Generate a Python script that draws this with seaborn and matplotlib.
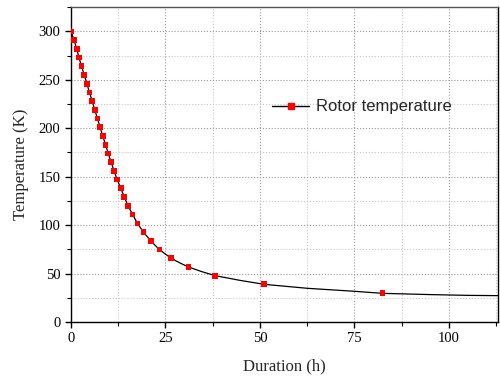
import numpy as np
import pandas as pd
import matplotlib
matplotlib.use('Agg')
import matplotlib.pyplot as plt
import seaborn as sns
from matplotlib.ticker import MultipleLocator

# marker points
duration = [0, 0.8, 1.5, 2.1, 2.8, 3.5, 4.2, 4.9, 5.6, 6.3, 7.0, 7.7, 8.4, 9.15,
            9.85, 10.6, 11.4, 12.2, 13.2, 14.1, 15.1, 16.3, 17.6, 19.2, 21.1,
            23.4, 26.5, 31.1, 38.2, 51.1, 82.4]
temperature = [300, 291, 282, 273, 264, 255, 246, 237, 228, 219, 210, 201, 192,
               183, 174, 165, 156, 147, 138, 129, 120, 111, 101.6, 92.7, 83.7,
               74.7, 65.8, 56.8, 47.8, 38.9, 29.6]

# extra points along the smooth curve (between and after markers)
curve_duration = [28.8, 34.6, 44.7, 62.5, 75, 95, 105, 113]
curve_temperature = [61.0, 52.0, 43.0, 34.8, 31.7, 28.3, 27.5, 27.2]

line_df = pd.DataFrame({'Duration': duration + curve_duration,
                        'Temperature': temperature + curve_temperature}).sort_values('Duration')
mark_df = pd.DataFrame({'Duration': duration, 'Temperature': temperature})

sns.set_style('ticks')
plt.rcParams['font.family'] = ['Liberation Serif', 'DejaVu Serif']

fig = plt.figure(figsize=(5, 3.76), dpi=100)
ax = fig.add_axes([0.142, 0.1436, 0.854, 0.8374])

sns.lineplot(data=line_df, x='Duration', y='Temperature', color='black', lw=0.9,
             sort=True, ax=ax, legend=False)
sns.scatterplot(data=mark_df, x='Duration', y='Temperature', marker='s', s=17,
                color='red', edgecolor='none', ax=ax, zorder=3, legend=False)

ax.set_xlim(0, 113)
ax.set_ylim(0, 325)
ax.xaxis.set_major_locator(MultipleLocator(25))
ax.xaxis.set_minor_locator(MultipleLocator(12.5))
ax.yaxis.set_major_locator(MultipleLocator(50))
ax.yaxis.set_minor_locator(MultipleLocator(25))

ax.grid(which='major', linestyle=':', color='#9a9a9a', linewidth=0.8)
ax.grid(which='minor', linestyle=':', color='#c8c8c8', linewidth=0.8)
for s in ax.spines.values():
    s.set_visible(True)
    s.set_color('black')
    s.set_linewidth(1)
ax.spines['top'].set_color('#555555')

ax.tick_params(which='both', direction='out', labelsize=10.5, colors='black')
ax.tick_params(which='major', length=4, width=1)
ax.tick_params(which='minor', length=3, width=0.8)

ax.set_xlabel('Duration (h)', fontsize=12, labelpad=9)
ax.set_ylabel('Temperature (K)', fontsize=12, labelpad=7)

handle = plt.Line2D([], [], color='black', lw=1, marker='s', markersize=4.5,
                    markerfacecolor='red', markeredgecolor='red')
ax.legend([handle], ['Rotor temperature'], loc='center left',
          bbox_to_anchor=(0.436, 0.683), frameon=False,
          prop={'family': 'Liberation Sans', 'size': 12}, handlelength=2.2,
          handletextpad=0.4)

fig.savefig('out.png', dpi=100)
